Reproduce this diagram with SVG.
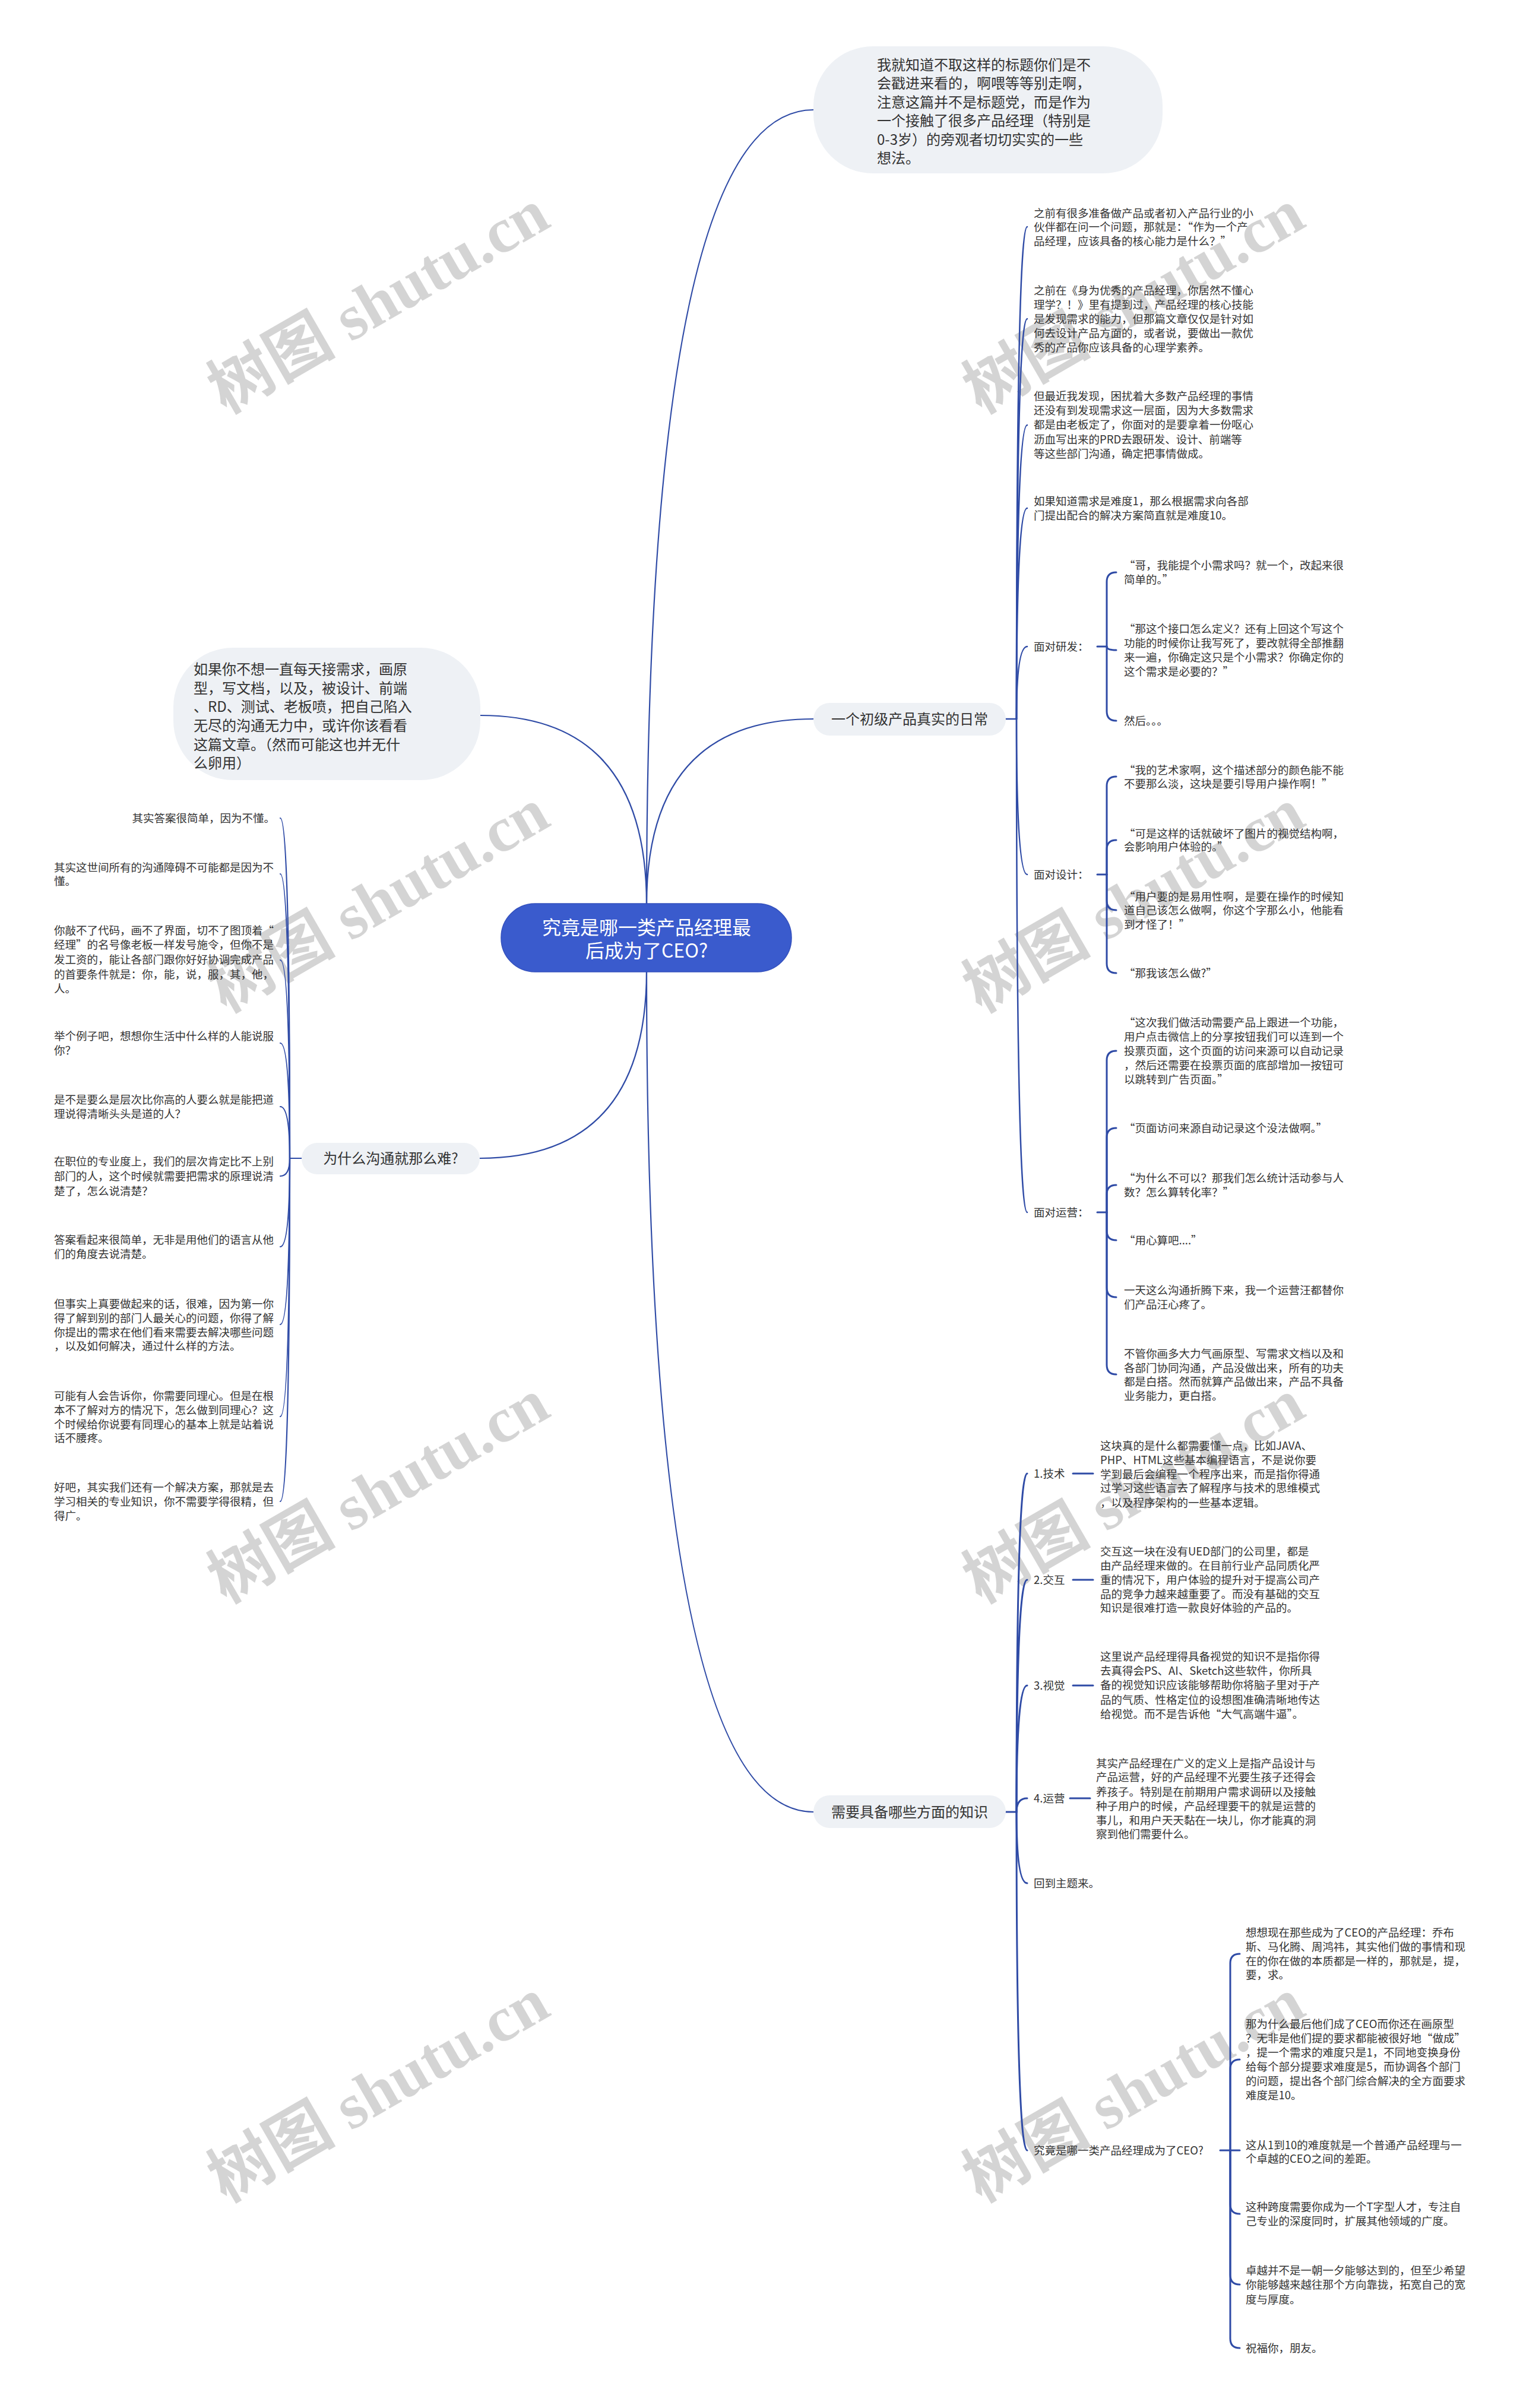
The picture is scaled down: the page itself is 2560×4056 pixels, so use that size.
<svg xmlns="http://www.w3.org/2000/svg" width="2560" height="4056" viewBox="0 0 2560 4056">
<style>
.t{font-family:"Noto Sans CJK SC","Noto Sans",sans-serif;font-size:18.5px;fill:#333}
.b{font-family:"Noto Sans CJK SC","Noto Sans",sans-serif;font-size:24px;fill:#333}
.c{font-family:"Noto Sans CJK SC","Noto Sans",sans-serif;font-size:32px;fill:#fff}
.bub{fill:#eef1f5}
.ln{fill:none;stroke:#2f4ba6;stroke-linecap:round}
.l1{stroke-width:2.2}
.l2{stroke-width:2.5}
.l3{stroke-width:3}
.wm{font-family:"Liberation Serif","Noto Sans CJK SC",serif;font-size:108px;font-weight:bold;fill:#000;fill-opacity:.17}
</style>
<rect width="2560" height="4056" fill="#fff"/>
<g id="watermarks">
<text class="wm" x="380" y="698" transform="rotate(-30 380 698)">树图 shutu.cn</text>
<text class="wm" x="380" y="1707" transform="rotate(-30 380 1707)">树图 shutu.cn</text>
<text class="wm" x="380" y="2702" transform="rotate(-30 380 2702)">树图 shutu.cn</text>
<text class="wm" x="380" y="3711" transform="rotate(-30 380 3711)">树图 shutu.cn</text>
<text class="wm" x="1652" y="698" transform="rotate(-30 1652 698)">树图 shutu.cn</text>
<text class="wm" x="1652" y="1707" transform="rotate(-30 1652 1707)">树图 shutu.cn</text>
<text class="wm" x="1652" y="2702" transform="rotate(-30 1652 2702)">树图 shutu.cn</text>
<text class="wm" x="1652" y="3711" transform="rotate(-30 1652 3711)">树图 shutu.cn</text>
</g>
<g id="connectors">
<path class="ln l1" d="M1089 1524 Q1089 185 1370 185"/>
<path class="ln l1" d="M1089 1524 Q1089 1205 809 1205"/>
<path class="ln l1" d="M1089 1524 Q1089 1211 1370 1211"/>
<path class="ln l1" d="M1089 1635 Q1089 1951 808 1951"/>
<path class="ln l1" d="M1089 1635 Q1089 3052 1370 3052"/>
<path class="ln l2" d="M1694 1211 H1712"/>
<path class="ln l2" d="M1712 1211 Q1712 382 1730 382"/>
<path class="ln l2" d="M1712 1211 Q1712 537 1730 537"/>
<path class="ln l2" d="M1712 1211 Q1712 716 1730 716"/>
<path class="ln l2" d="M1712 1211 Q1712 856 1730 856"/>
<path class="ln l2" d="M1712 1211 Q1712 1089 1730 1089"/>
<path class="ln l2" d="M1712 1211 Q1712 1473 1730 1473"/>
<path class="ln l2" d="M1712 1211 Q1712 2042 1730 2042"/>
<path class="ln l3" d="M1848 1089 H1864"/>
<path class="ln l3" d="M1864 1089 V980 Q1864 964 1880 964"/>
<path class="ln l3" d="M1864 1089 Q1864 1095 1880 1095"/>
<path class="ln l3" d="M1864 1089 V1198 Q1864 1214 1880 1214"/>
<path class="ln l3" d="M1848 1473 H1864"/>
<path class="ln l3" d="M1864 1473 V1324 Q1864 1308 1880 1308"/>
<path class="ln l3" d="M1864 1473 V1431 Q1864 1415 1880 1415"/>
<path class="ln l3" d="M1864 1473 V1517 Q1864 1533 1880 1533"/>
<path class="ln l3" d="M1864 1473 V1623 Q1864 1639 1880 1639"/>
<path class="ln l3" d="M1848 2042 H1864"/>
<path class="ln l3" d="M1864 2042 V1786 Q1864 1770 1880 1770"/>
<path class="ln l3" d="M1864 2042 V1916 Q1864 1900 1880 1900"/>
<path class="ln l3" d="M1864 2042 V2012 Q1864 1996 1880 1996"/>
<path class="ln l3" d="M1864 2042 V2073 Q1864 2089 1880 2089"/>
<path class="ln l3" d="M1864 2042 V2169 Q1864 2185 1880 2185"/>
<path class="ln l3" d="M1864 2042 V2299 Q1864 2315 1880 2315"/>
<path class="ln l3" d="M1694 3052 H1712"/>
<path class="ln l3" d="M1712 3052 Q1712 2482 1730 2482"/>
<path class="ln l3" d="M1712 3052 Q1712 2661 1730 2661"/>
<path class="ln l3" d="M1712 3052 Q1712 2839 1730 2839"/>
<path class="ln l3" d="M1712 3052 Q1712 3029 1730 3029"/>
<path class="ln l3" d="M1712 3052 Q1712 3172 1730 3172"/>
<path class="ln l3" d="M1712 3052 Q1712 3622 1730 3622"/>
<path class="ln l3" d="M1807 2482 H1841"/>
<path class="ln l3" d="M1807 2661 H1841"/>
<path class="ln l3" d="M1807 2839 H1841"/>
<path class="ln l3" d="M1802 3029 H1836"/>
<path class="ln l3" d="M2055 3622 H2072"/>
<path class="ln l3" d="M2072 3622 V3307 Q2072 3291 2088 3291"/>
<path class="ln l3" d="M2072 3622 V3485 Q2072 3469 2088 3469"/>
<path class="ln l3" d="M2072 3622 H2088"/>
<path class="ln l3" d="M2072 3622 V3713 Q2072 3729 2088 3729"/>
<path class="ln l3" d="M2072 3622 V3832 Q2072 3848 2088 3848"/>
<path class="ln l3" d="M2072 3622 V3939 Q2072 3955 2088 3955"/>
<path class="ln l1" d="M508 1951 H488"/>
<path class="ln l1" d="M488 1951 Q488 1378 472 1378"/>
<path class="ln l1" d="M488 1951 Q488 1472 472 1472"/>
<path class="ln l1" d="M488 1951 Q488 1617 472 1617"/>
<path class="ln l1" d="M488 1951 Q488 1757 472 1757"/>
<path class="ln l1" d="M488 1951 Q488 1864 472 1864"/>
<path class="ln l1" d="M488 1951 Q488 1981 472 1981"/>
<path class="ln l1" d="M488 1951 Q488 2100 472 2100"/>
<path class="ln l1" d="M488 1951 Q488 2231 472 2231"/>
<path class="ln l1" d="M488 1951 Q488 2386 472 2386"/>
<path class="ln l1" d="M488 1951 Q488 2529 472 2529"/>
</g>
<g id="center">
<rect x="844" y="1522" width="489" height="115" rx="57" fill="#3a5bcd" stroke="#3350bd" stroke-width="1.5"/>
<text class="c" text-anchor="middle"><tspan x="1089" y="1573.5">究竟是哪一类产品经理最</tspan><tspan x="1089" y="1612.5">后成为了CEO?</tspan></text>
</g>
<g id="top-bubble">
<rect class="bub" x="1370" y="78" width="588" height="214" rx="100"/>
<text class="b"><tspan x="1477" y="117.5">我就知道不取这样的标题你们是不</tspan><tspan x="1477" y="149">会戳进来看的，啊喂等等别走啊，</tspan><tspan x="1477" y="180.5">注意这篇并不是标题党，而是作为</tspan><tspan x="1477" y="212">一个接触了很多产品经理（特别是</tspan><tspan x="1477" y="243.5">0-3岁）的旁观者切切实实的一些</tspan><tspan x="1477" y="275">想法。</tspan></text>
</g>
<g id="left-bubble">
<rect class="bub" x="292" y="1091" width="517" height="223" rx="100"/>
<text class="b"><tspan x="326" y="1135.5">如果你不想一直每天接需求，画原</tspan><tspan x="326" y="1167.5">型，写文档，以及，被设计、前端</tspan><tspan x="326" y="1198.5">、RD、测试、老板喷，把自己陷入</tspan><tspan x="326" y="1230.5">无尽的沟通无力中，或许你该看看</tspan><tspan x="326" y="1262.5">这篇文章。（然而可能这也并无什</tspan><tspan x="326" y="1293.5">么卵用）</tspan></text>
</g>
<g id="branch-daily">
<rect class="bub" x="1370" y="1184" width="324" height="55" rx="27.5"/>
<text class="b" x="1532" y="1219.5" text-anchor="middle">一个初级产品真实的日常</text>
</g>
<g id="daily-1"><text class="t"><tspan x="1741" y="365.5">之前有很多准备做产品或者初入产品行业的小</tspan><tspan x="1741" y="389">伙伴都在问一个问题，那就是：“作为一个产</tspan><tspan x="1741" y="412.5">品经理，应该具备的核心能力是什么？”</tspan></text></g>
<g id="daily-2"><text class="t"><tspan x="1741" y="495.5">之前在《身为优秀的产品经理，你居然不懂心</tspan><tspan x="1741" y="519.5">理学？！》里有提到过，产品经理的核心技能</tspan><tspan x="1741" y="543.5">是发现需求的能力，但那篇文章仅仅是针对如</tspan><tspan x="1741" y="567.5">何去设计产品方面的，或者说，要做出一款优</tspan><tspan x="1741" y="591.5">秀的产品你应该具备的心理学素养。</tspan></text></g>
<g id="daily-3"><text class="t"><tspan x="1741" y="673.5">但最近我发现，困扰着大多数产品经理的事情</tspan><tspan x="1741" y="697.5">还没有到发现需求这一层面，因为大多数需求</tspan><tspan x="1741" y="722">都是由老板定了，你面对的是要拿着一份呕心</tspan><tspan x="1741" y="746.5">沥血写出来的PRD去跟研发、设计、前端等</tspan><tspan x="1741" y="770.5">等这些部门沟通，确定把事情做成。</tspan></text></g>
<g id="daily-4"><text class="t"><tspan x="1741" y="850.5">如果知道需求是难度1，那么根据需求向各部</tspan><tspan x="1741" y="875">门提出配合的解决方案简直就是难度10。</tspan></text></g>
<g id="face-rd"><text class="t" x="1741" y="1095.5">面对研发：</text></g>
<g id="rd-1"><text class="t"><tspan x="1893" y="958.5">“哥，我能提个小需求吗？就一个，改起来很</tspan><tspan x="1893" y="983">简单的。”</tspan></text></g>
<g id="rd-2"><text class="t"><tspan x="1893" y="1065.5">“那这个接口怎么定义？还有上回这个写这个</tspan><tspan x="1893" y="1089.5">功能的时候你让我写死了，要改就得全部推翻</tspan><tspan x="1893" y="1113.5">来一遍，你确定这只是个小需求？你确定你的</tspan><tspan x="1893" y="1138">这个需求是必要的？”</tspan></text></g>
<g id="rd-3"><text class="t" x="1893" y="1220.5">然后。。。</text></g>
<g id="face-design"><text class="t" x="1741" y="1479.5">面对设计：</text></g>
<g id="design-1"><text class="t"><tspan x="1893" y="1303.5">“我的艺术家啊，这个描述部分的颜色能不能</tspan><tspan x="1893" y="1327">不要那么淡，这块是要引导用户操作啊！”</tspan></text></g>
<g id="design-2"><text class="t"><tspan x="1893" y="1410.5">“可是这样的话就破坏了图片的视觉结构啊，</tspan><tspan x="1893" y="1433">会影响用户体验的。”</tspan></text></g>
<g id="design-3"><text class="t"><tspan x="1893" y="1516.5">“用户要的是易用性啊，是要在操作的时候知</tspan><tspan x="1893" y="1540">道自己该怎么做啊，你这个字那么小，他能看</tspan><tspan x="1893" y="1563.5">到才怪了！”</tspan></text></g>
<g id="design-4"><text class="t" x="1893" y="1645.5">“那我该怎么做?”</text></g>
<g id="face-ops"><text class="t" x="1741" y="2048.5">面对运营：</text></g>
<g id="ops-1"><text class="t"><tspan x="1893" y="1728.5">“这次我们做活动需要产品上跟进一个功能，</tspan><tspan x="1893" y="1752.5">用户点击微信上的分享按钮我们可以连到一个</tspan><tspan x="1893" y="1776.5">投票页面，这个页面的访问来源可以自动记录</tspan><tspan x="1893" y="1800.5">，然后还需要在投票页面的底部增加一按钮可</tspan><tspan x="1893" y="1824.5">以跳转到广告页面。”</tspan></text></g>
<g id="ops-2"><text class="t" x="1893" y="1906.5">“页面访问来源自动记录这个没法做啊。”</text></g>
<g id="ops-3"><text class="t"><tspan x="1893" y="1990.5">“为什么不可以？那我们怎么统计活动参与人</tspan><tspan x="1893" y="2014.5">数？怎么算转化率？”</tspan></text></g>
<g id="ops-4"><text class="t" x="1893" y="2095.5">“用心算吧....”</text></g>
<g id="ops-5"><text class="t"><tspan x="1893" y="2179.5">一天这么沟通折腾下来，我一个运营汪都替你</tspan><tspan x="1893" y="2203.5">们产品汪心疼了。</tspan></text></g>
<g id="ops-6"><text class="t"><tspan x="1893" y="2286.5">不管你画多大力气画原型、写需求文档以及和</tspan><tspan x="1893" y="2310.5">各部门协同沟通，产品没做出来，所有的功夫</tspan><tspan x="1893" y="2334">都是白搭。然而就算产品做出来，产品不具备</tspan><tspan x="1893" y="2357.5">业务能力，更白搭。</tspan></text></g>
<g id="branch-knowledge">
<rect class="bub" x="1370" y="3024" width="324" height="55" rx="27.5"/>
<text class="b" x="1532" y="3060.5" text-anchor="middle">需要具备哪些方面的知识</text>
</g>
<g id="k-tech"><text class="t" x="1741" y="2488.5">1.技术</text></g>
<g id="k-tech-text"><text class="t"><tspan x="1853" y="2441.5">这块真的是什么都需要懂一点，比如JAVA、</tspan><tspan x="1853" y="2465.5">PHP、HTML这些基本编程语言，不是说你要</tspan><tspan x="1853" y="2489.5">学到最后会编程一个程序出来，而是指你得通</tspan><tspan x="1853" y="2513">过学习这些语言去了解程序与技术的思维模式</tspan><tspan x="1853" y="2537.5">，以及程序架构的一些基本逻辑。</tspan></text></g>
<g id="k-ui"><text class="t" x="1741" y="2667.5">2.交互</text></g>
<g id="k-ui-text"><text class="t"><tspan x="1853" y="2619.5">交互这一块在没有UED部门的公司里，都是</tspan><tspan x="1853" y="2643.5">由产品经理来做的。在目前行业产品同质化严</tspan><tspan x="1853" y="2667.5">重的情况下，用户体验的提升对于提高公司产</tspan><tspan x="1853" y="2691.5">品的竞争力越来越重要了。而没有基础的交互</tspan><tspan x="1853" y="2715">知识是很难打造一款良好体验的产品的。</tspan></text></g>
<g id="k-visual"><text class="t" x="1741" y="2845.5">3.视觉</text></g>
<g id="k-visual-text"><text class="t"><tspan x="1853" y="2796.5">这里说产品经理得具备视觉的知识不是指你得</tspan><tspan x="1853" y="2820.5">去真得会PS、AI、Sketch这些软件，你所具</tspan><tspan x="1853" y="2845">备的视觉知识应该能够帮助你将脑子里对于产</tspan><tspan x="1853" y="2869.5">品的气质、性格定位的设想图准确清晰地传达</tspan><tspan x="1853" y="2893.5">给视觉。而不是告诉他“大气高端牛逼”。</tspan></text></g>
<g id="k-ops"><text class="t" x="1741" y="3035.5">4.运营</text></g>
<g id="k-ops-text"><text class="t"><tspan x="1846" y="2976.5">其实产品经理在广义的定义上是指产品设计与</tspan><tspan x="1846" y="3000">产品运营，好的产品经理不光要生孩子还得会</tspan><tspan x="1846" y="3024.5">养孩子。特别是在前期用户需求调研以及接触</tspan><tspan x="1846" y="3048.5">种子用户的时候，产品经理要干的就是运营的</tspan><tspan x="1846" y="3072.5">事儿，和用户天天黏在一块儿，你才能真的洞</tspan><tspan x="1846" y="3096">察到他们需要什么。</tspan></text></g>
<g id="k-back"><text class="t" x="1741" y="3178.5">回到主题来。</text></g>
<g id="k-ceo"><text class="t" x="1741" y="3628.5">究竟是哪一类产品经理成为了CEO?</text></g>
<g id="ceo-1"><text class="t"><tspan x="2098" y="3261.5">想想现在那些成为了CEO的产品经理：乔布</tspan><tspan x="2098" y="3285.5">斯、马化腾、周鸿祎，其实他们做的事情和现</tspan><tspan x="2098" y="3309.5">在的你在做的本质都是一样的，那就是，提，</tspan><tspan x="2098" y="3333">要，求。</tspan></text></g>
<g id="ceo-2"><text class="t"><tspan x="2098" y="3415.5">那为什么最后他们成了CEO而你还在画原型</tspan><tspan x="2098" y="3439.5">？无非是他们提的要求都能被很好地“做成”</tspan><tspan x="2098" y="3463.5">，提一个需求的难度只是1，不同地变换身份</tspan><tspan x="2098" y="3487.5">给每个部分提要求难度是5，而协调各个部门</tspan><tspan x="2098" y="3512">的问题，提出各个部门综合解决的全方面要求</tspan><tspan x="2098" y="3535.5">难度是10。</tspan></text></g>
<g id="ceo-3"><text class="t"><tspan x="2098" y="3619.5">这从1到10的难度就是一个普通产品经理与一</tspan><tspan x="2098" y="3642.5">个卓越的CEO之间的差距。</tspan></text></g>
<g id="ceo-4"><text class="t"><tspan x="2098" y="3723.5">这种跨度需要你成为一个T字型人才，专注自</tspan><tspan x="2098" y="3748">己专业的深度同时，扩展其他领域的广度。</tspan></text></g>
<g id="ceo-5"><text class="t"><tspan x="2098" y="3830.5">卓越并不是一朝一夕能够达到的，但至少希望</tspan><tspan x="2098" y="3855">你能够越来越往那个方向靠拢，拓宽自己的宽</tspan><tspan x="2098" y="3879.5">度与厚度。</tspan></text></g>
<g id="ceo-6"><text class="t" x="2098" y="3961.5">祝福你，朋友。</text></g>
<g id="branch-why">
<rect class="bub" x="508" y="1925" width="300" height="53" rx="26.5"/>
<text class="b" x="658" y="1959.5" text-anchor="middle">为什么沟通就那么难?</text>
</g>
<g id="why-1"><text class="t" x="463" y="1384.5" text-anchor="end">其实答案很简单，因为不懂。</text></g>
<g id="why-2"><text class="t"><tspan x="91" y="1467.5">其实这世间所有的沟通障碍不可能都是因为不</tspan><tspan x="91" y="1490.5">懂。</tspan></text></g>
<g id="why-3"><text class="t"><tspan x="91" y="1573.5">你敲不了代码，画不了界面，切不了图顶着“</tspan><tspan x="91" y="1598">经理”的名号像老板一样发号施令，但你不是</tspan><tspan x="91" y="1623">发工资的，能让各部门跟你好好协调完成产品</tspan><tspan x="91" y="1647.5">的首要条件就是：你，能，说，服，其，他，</tspan><tspan x="91" y="1671.5">人。</tspan></text></g>
<g id="why-4"><text class="t"><tspan x="91" y="1751.5">举个例子吧，想想你生活中什么样的人能说服</tspan><tspan x="91" y="1776">你？</tspan></text></g>
<g id="why-5"><text class="t"><tspan x="91" y="1858.5">是不是要么是层次比你高的人要么就是能把道</tspan><tspan x="91" y="1883">理说得清晰头头是道的人？</tspan></text></g>
<g id="why-6"><text class="t"><tspan x="91" y="1962.5">在职位的专业度上，我们的层次肯定比不上别</tspan><tspan x="91" y="1988">部门的人，这个时候就需要把需求的原理说清</tspan><tspan x="91" y="2013">楚了，怎么说清楚？</tspan></text></g>
<g id="why-7"><text class="t"><tspan x="91" y="2094.5">答案看起来很简单，无非是用他们的语言从他</tspan><tspan x="91" y="2118.5">们的角度去说清楚。</tspan></text></g>
<g id="why-8"><text class="t"><tspan x="91" y="2202.5">但事实上真要做起来的话，很难，因为第一你</tspan><tspan x="91" y="2226.5">得了解到别的部门人最关心的问题，你得了解</tspan><tspan x="91" y="2250.5">你提出的需求在他们看来需要去解决哪些问题</tspan><tspan x="91" y="2273.5">，以及如何解决，通过什么样的方法。</tspan></text></g>
<g id="why-9"><text class="t"><tspan x="91" y="2357.5">可能有人会告诉你，你需要同理心。但是在根</tspan><tspan x="91" y="2381.5">本不了解对方的情况下，怎么做到同理心？这</tspan><tspan x="91" y="2405.5">个时候给你说要有同理心的基本上就是站着说</tspan><tspan x="91" y="2428.5">话不腰疼。</tspan></text></g>
<g id="why-10"><text class="t"><tspan x="91" y="2511.5">好吧，其实我们还有一个解决方案，那就是去</tspan><tspan x="91" y="2535.5">学习相关的专业知识，你不需要学得很精，但</tspan><tspan x="91" y="2559.5">得广。</tspan></text></g>
</svg>
